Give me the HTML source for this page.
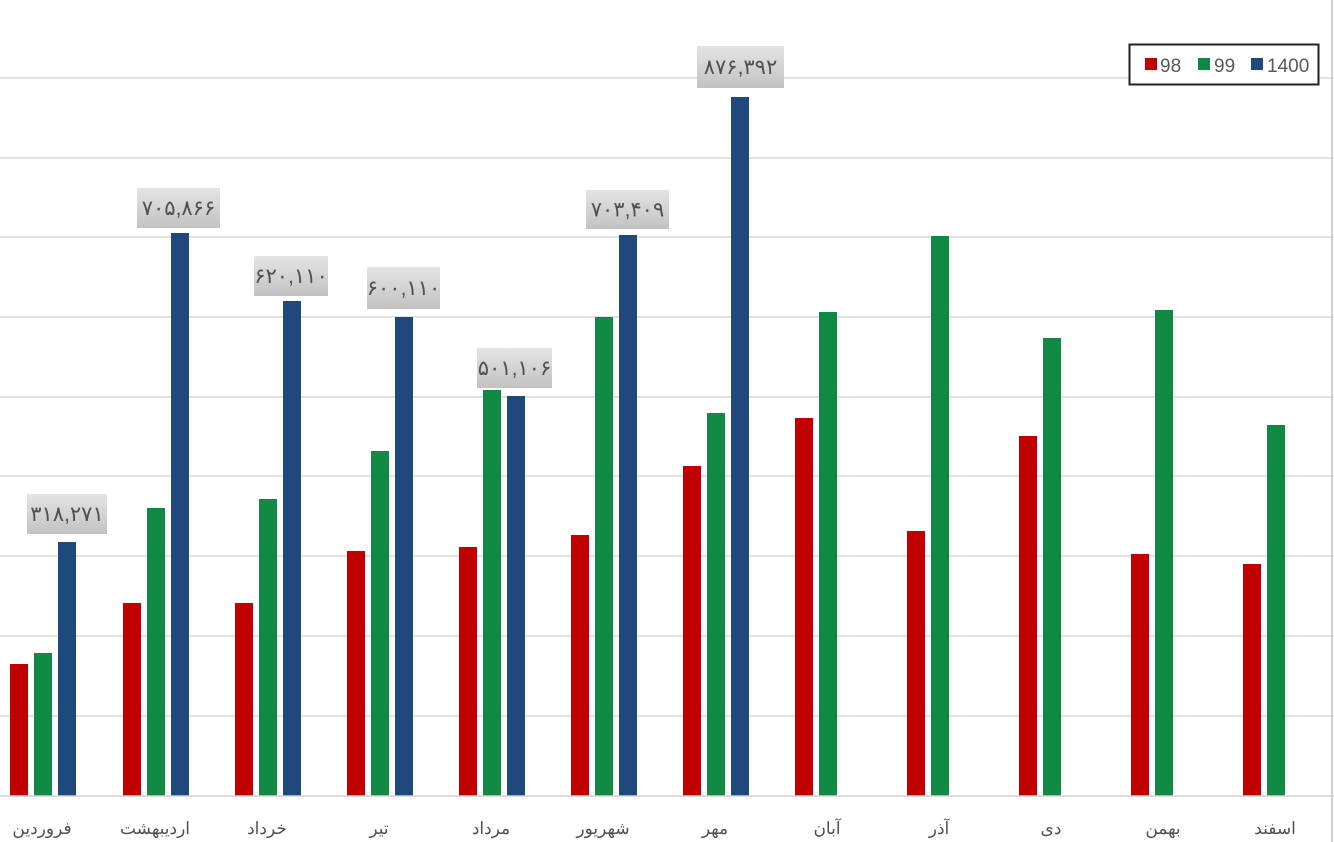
<!DOCTYPE html>
<html><head><meta charset="utf-8"><style>
html,body{margin:0;padding:0;background:#fff}
svg{display:block}
text{font-family:"Liberation Sans","Noto Sans CJK SC",sans-serif}
</style></head><body>
<svg width="1334" height="842" viewBox="0 0 1334 842">
<defs><linearGradient id="g" x1="0" y1="0" x2="0" y2="1"><stop offset="0" stop-color="#e4e4e4"/><stop offset="1" stop-color="#c2c2c2"/></linearGradient></defs>
<g stroke="#d9d9d9" stroke-width="1.5">
<line x1="0" y1="78" x2="1334" y2="78"/><line x1="0" y1="158" x2="1334" y2="158"/><line x1="0" y1="237" x2="1334" y2="237"/><line x1="0" y1="317" x2="1334" y2="317"/><line x1="0" y1="397" x2="1334" y2="397"/><line x1="0" y1="476" x2="1334" y2="476"/><line x1="0" y1="556" x2="1334" y2="556"/><line x1="0" y1="636" x2="1334" y2="636"/><line x1="0" y1="716" x2="1334" y2="716"/>
</g>
<line x1="1332" y1="0" x2="1332" y2="842" stroke="#d0d0d0" stroke-width="2"/>
<g id="bars"></g>
<line x1="0" y1="796" x2="1334" y2="796" stroke="#d0d0d0" stroke-width="1.5"/>
<g id="labels"></g>
<g font-size="17" fill="#505050" text-anchor="middle" font-family="'Liberation Sans','Noto Sans CJK SC',sans-serif">
<text x="42" y="834">فروردین</text><text x="155" y="834">اردیبهشت</text><text x="267" y="834">خرداد</text><text x="379" y="834">تیر</text><text x="491" y="834">مرداد</text><text x="603" y="834">شهریور</text><text x="715" y="834">مهر</text><text x="827" y="834">آبان</text><text x="939" y="834">آذر</text><text x="1051" y="834">دی</text><text x="1163" y="834">بهمن</text><text x="1275" y="834">اسفند</text>
</g>
<rect x="1129.5" y="44.5" width="189" height="40" fill="#fff" stroke="#222" stroke-width="2"/>
<rect x="1145" y="58" width="12" height="12" fill="#c00000"/><text x="1160" y="72" font-size="19" fill="#595959">98</text>
<rect x="1198" y="58" width="12" height="12" fill="#0e8a45"/><text x="1214" y="72" font-size="19" fill="#595959">99</text>
<rect x="1251" y="58" width="12" height="12" fill="#1f497d"/><text x="1267" y="72" font-size="19" fill="#595959">1400</text>
</svg>
<script>
var c=[43,156,268,380,492,604,716,828,940,1052,1164,1276];
var d=[[664,653,542],[603,508,233],[603,499,301],[551,451,317],[547,390,396],[535,317,235],[466,413,97],[418,312],[531,236],[436,338],[554,310],[564,425]];
var col=["#c00000","#0e8a45","#1f497d"],off=[-33,-9,15];
var s="";
d.forEach(function(g,i){g.forEach(function(t,j){s+='<rect x="'+(c[i]+off[j])+'" y="'+t+'" width="18" height="'+(796-t)+'" fill="'+col[j]+'"/>';});});
document.getElementById("bars").innerHTML=s;
var L=[[27,494,80,40,"۳۱۸,۲۷۱"],[137,188,83,40,"۷۰۵,۸۶۶"],[254,256,74,40,"۶۲۰,۱۱۰"],[367,267,73,42,"۶۰۰,۱۱۰"],[477,348,75,40,"۵۰۱,۱۰۶"],[586,190,83,39,"۷۰۳,۴۰۹"],[697,46,87,42,"۸۷۶,۳۹۲"]];
var t="";
L.forEach(function(l){t+='<rect x="'+l[0]+'" y="'+l[1]+'" width="'+l[2]+'" height="'+l[3]+'" fill="url(#g)"/><text x="'+(l[0]+l[2]/2)+'" y="'+(l[1]+l[3]/2+7)+'" font-size="21" fill="#505050" text-anchor="middle" font-family="\'Liberation Sans\',\'Noto Sans CJK SC\',sans-serif">'+l[4]+'</text>';});
document.getElementById("labels").innerHTML=t;
</script>
</body></html>
